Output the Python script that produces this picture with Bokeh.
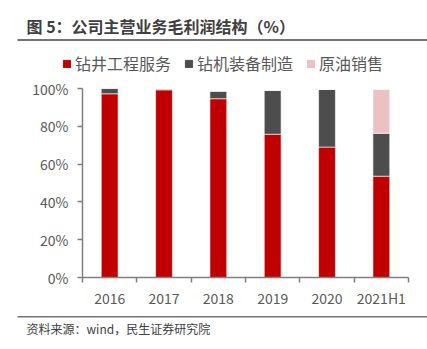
from bokeh.plotting import figure
from bokeh.models import (Range1d, FixedTicker, Label, BoxAnnotation, ColumnDataSource,
                          Legend, LegendItem)
from bokeh.layouts import column
from bokeh.embed import file_html
from bokeh.resources import INLINE

# ---- data ----
categories = ["2016", "2017", "2018", "2019", "2020", "2021H1"]
drilling_service = [97.2, 99.3, 94.6, 75.8, 69.0, 53.6]     # 钻井工程服务
rig_manufacturing = [2.8, 0.5, 4.0, 23.2, 30.5, 22.7]      # 钻机装备制造
crude_sales = [0.0, 0.0, 0.0, 0.0, 0.0, 23.2]              # 原油销售
series_names = ["钻井工程服务", "钻机装备制造", "原油销售"]
y_ticks = [0, 20, 40, 60, 80, 100]

title_text = "图 5：公司主营业务毛利润结构（%）"
source_text = "资料来源：wind，民生证券研究院"

FONT = "Noto Sans CJK SC"
TEXT_COLOR = "#595959"
AXIS_COLOR = "#7f7f7f"
RULE_COLOR = "#737373"
colors = ["#C00000", "#4D4D4D", "#EBC1C1"]

W = 427
H_HEAD, H_MAIN, H_FOOT = 76, 234, 39

n = len(categories)
xs = [i + 0.5 for i in range(n)]
src = ColumnDataSource(dict(x=xs, a=drilling_service, b=rig_manufacturing, c=crude_sales))


def blank(h):
    # frame covers the whole canvas; ranges keep the chart data far out of view
    f = figure(width=W, height=h, output_backend="svg", toolbar_location=None,
               x_range=Range1d(-10000, -10000 + W), y_range=Range1d(-10000, -10000 + h),
               min_border=0, min_border_left=0, min_border_right=0,
               min_border_top=0, min_border_bottom=0)
    f.axis.visible = False
    f.grid.visible = False
    f.outline_line_color = None
    f.frame_align = False
    return f


# ---- header: title, rule, legend ----
head = blank(H_HEAD)
head.add_layout(Label(x=26, y=H_HEAD - 25, x_units="screen", y_units="screen",
                      text=title_text, text_font=FONT, text_font_size="16px",
                      text_font_style="bold", text_color="#404040",
                      text_baseline="middle"))
head.add_layout(BoxAnnotation(left=17, right=W, top=H_HEAD - 38.5, bottom=H_HEAD - 40.5,
                              left_units="screen", right_units="screen",
                              top_units="screen", bottom_units="screen",
                              fill_color=RULE_COLOR, fill_alpha=1, line_color=None))
items = []
for name, col, key in zip(series_names, colors, ["a", "b", "c"]):
    r = head.vbar(x="x", top=key, width=0.31, source=src, color=col)
    items.append(LegendItem(label=name, renderers=[r]))
lg = Legend(items=items, orientation="horizontal", location=(62, 1),
            border_line_color=None, background_fill_alpha=0, padding=0, margin=0,
            spacing=13, glyph_width=9, glyph_height=9, label_standoff=4,
            label_height=16, label_text_font=FONT, label_text_font_size="16px",
            label_text_color=TEXT_COLOR)
head.add_layout(lg)

# ---- main chart ----
p = figure(width=W, height=H_MAIN, output_backend="svg", toolbar_location=None,
           x_range=Range1d(0, n), y_range=Range1d(0, 100),
           min_border_left=82, min_border_right=19, min_border_top=12, min_border_bottom=31)
p.outline_line_color = None
p.grid.visible = False
p.frame_align = False

p.vbar_stack(["a", "b", "c"], x="x", width=0.31, source=src, color=colors,
             line_color="white", line_width=0.6)

xa = p.xaxis[0]
xa.ticker = FixedTicker(ticks=xs, minor_ticks=list(range(n + 1)))
xa.major_label_overrides = {x: c for x, c in zip(xs, categories)}
xa.major_tick_line_color = None
xa.major_tick_out = 5
xa.major_tick_in = 0
xa.minor_tick_out = 5
xa.minor_tick_in = 0
xa.minor_tick_line_color = AXIS_COLOR
xa.minor_tick_line_width = 1.5
xa.axis_line_color = AXIS_COLOR
xa.axis_line_width = 1.5
xa.major_label_standoff = 5
xa.major_label_text_font = FONT
xa.major_label_text_font_size = "14px"
xa.major_label_text_color = TEXT_COLOR

ya = p.yaxis[0]
ya.ticker = FixedTicker(ticks=y_ticks, minor_ticks=[])
ya.major_label_overrides = {v: f"{v}%" for v in y_ticks}
ya.major_tick_out = 5
ya.major_tick_in = 0
ya.major_tick_line_color = AXIS_COLOR
ya.major_tick_line_width = 1.5
ya.axis_line_color = AXIS_COLOR
ya.axis_line_width = 1.5
ya.major_label_standoff = 9
ya.major_label_text_font = FONT
ya.major_label_text_font_size = "14px"
ya.major_label_text_color = TEXT_COLOR

# ---- footer: rule and source ----
foot = blank(H_FOOT)
foot.add_layout(BoxAnnotation(left=17, right=W, top=H_FOOT - 5.5, bottom=H_FOOT - 7,
                              left_units="screen", right_units="screen",
                              top_units="screen", bottom_units="screen",
                              fill_color=RULE_COLOR, fill_alpha=1, line_color=None))
foot.add_layout(Label(x=26, y=H_FOOT - 18, x_units="screen", y_units="screen",
                      text=source_text, text_font=FONT, text_font_size="12px",
                      text_color="#404040", text_baseline="middle"))

layout = column(head, p, foot, spacing=0)
open("out.html", "w").write(file_html(layout, INLINE))
